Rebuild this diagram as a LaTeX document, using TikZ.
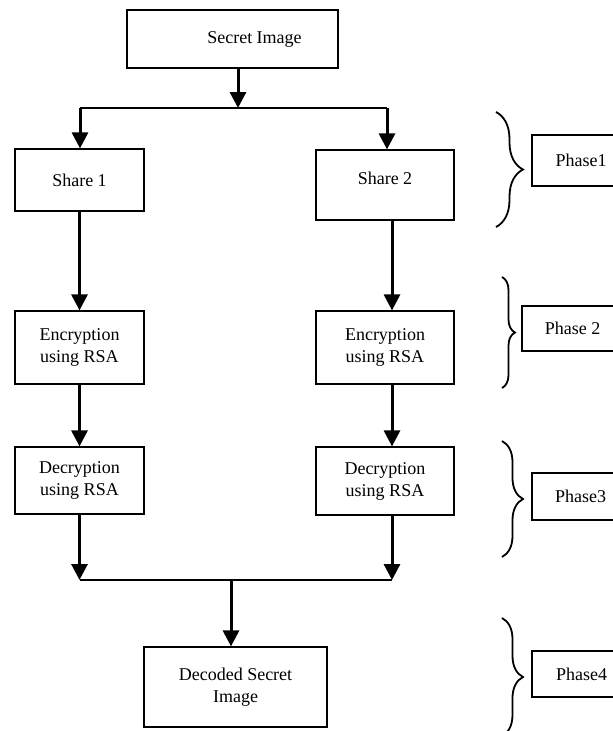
\documentclass[tikz,border=0pt]{standalone}
\usepackage{fontspec}
\setmainfont{Liberation Serif}
\usetikzlibrary{arrows.meta}
\usetikzlibrary{decorations.pathreplacing}
\tikzset{box/.style = {draw, line width=1.2pt, align=center, inner sep=0pt,
                       font=\fontsize{18}{22}\selectfont},
         flow/.style = {line width=3pt, -{Triangle[width=16pt,length=16pt]}},
         split/.style = {line width=1.3pt},
         phasebrace/.style = {line width=1.8pt, decorate,
                              decoration={brace, amplitude=#1}}}

\begin{document}
\begin{tikzpicture}[x=1pt, y=-1pt]
    \useasboundingbox (0, 0) rectangle (613, 731);
    \clip (0, 0) rectangle (613, 731);

    \node [box, minimum width=211pt, minimum height=58pt] (secret) at (232.5, 39) {\hspace*{44pt}Secret Image};

    \node [box, minimum width=129pt, minimum height=62pt] (share1) at (79.5, 180) {Share 1};
    \node [box, minimum width=138pt, minimum height=70pt, text depth=14pt] (share2) at (385, 185) {Share 2};

    \node [box, minimum width=129pt, minimum height=73pt] (enc1) at (79.5, 347.5) {Encryption\\using RSA};
    \node [box, minimum width=138pt, minimum height=73pt] (enc2) at (385, 347.5) {Encryption\\using RSA};

    \node [box, minimum width=129pt, minimum height=67pt] (dec1) at (79.5, 480.5) {Decryption\\using RSA};
    \node [box, minimum width=138pt, minimum height=68pt] (dec2) at (385, 481) {Decryption\\using RSA};

    \node [box, minimum width=183pt, minimum height=80pt] (decoded) at (235.5, 687) {Decoded Secret\\Image};

    \node [box, minimum width=98pt, minimum height=51pt] (phase1) at (581, 160.5) {Phase1};
    \node [box, minimum width=101pt, minimum height=45pt] (phase2) at (572.5, 328.5) {Phase 2};
    \node [box, minimum width=97pt, minimum height=47pt] (phase3) at (580.5, 496.5) {Phase3};
    \node [box, minimum width=99pt, minimum height=46pt] (phase4) at (581.5, 674) {Phase4};

    \coordinate (fork) at (238, 108);
    \coordinate (forkL) at (80, 108);
    \coordinate (forkR) at (387, 108);
    \coordinate (joinL) at (80, 580);
    \coordinate (joinR) at (392, 580);
    \coordinate (joinM) at (231, 580);

    \draw [flow] (secret.south -| fork) -- (fork);
    \draw [split] (forkL) -- (forkR);
    \draw [flow] (forkL) -- (forkL |- share1.north);
    \draw [flow] (forkR) -- (forkR |- share2.north);

    \draw [flow] (share1.south) -- (enc1.north);
    \draw [flow] ([xshift=7pt]share2.south) -- ([xshift=7pt]enc2.north);
    \draw [flow] (enc1.south) -- (dec1.north);
    \draw [flow] ([xshift=7pt]enc2.south) -- ([xshift=7pt]dec2.north);

    \draw [flow] (dec1.south) -- (dec1.south |- joinL);
    \draw [flow] ([xshift=7pt]dec2.south) -- (joinR);
    \draw [split] (joinL) -- (joinR);
    \draw [flow] (joinM) -- (decoded.north -| joinM);

    \draw [phasebrace=27pt] (496, 112) -- (496, 227);
    \draw [phasebrace=13pt] (502, 277) -- (502, 388);
    \draw [phasebrace=21pt] (502, 441) -- (502, 557);
    \draw [phasebrace=21pt] (502, 618) -- (502, 736);
  \end{tikzpicture}
\end{document}
